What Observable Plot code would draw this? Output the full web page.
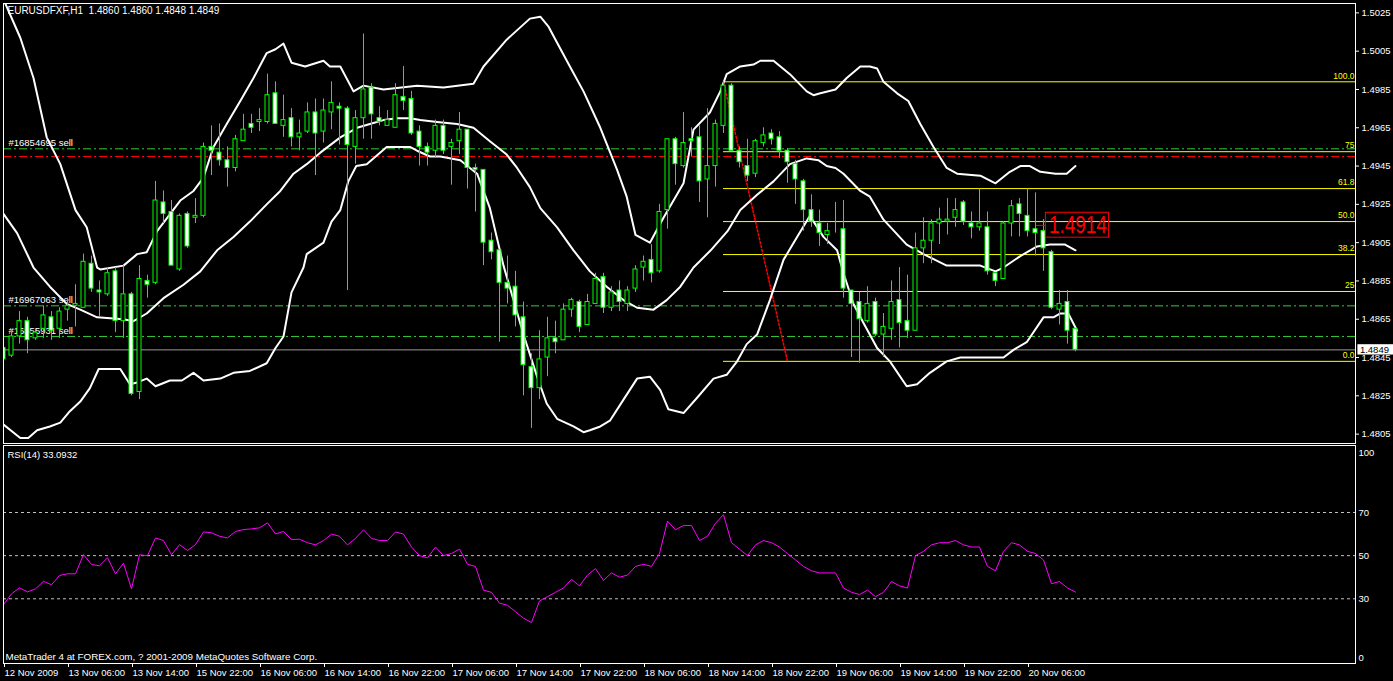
<!DOCTYPE html>
<html><head><meta charset="utf-8">
<script src="https://cdn.jsdelivr.net/npm/d3@7"></script>
<script src="https://cdn.jsdelivr.net/npm/@observablehq/plot@0.6"></script>
<style>
html,body{margin:0;padding:0;background:#000;width:1393px;height:681px;overflow:hidden;}
#main{position:absolute;left:0;top:0;}
#rsi{position:absolute;left:0;top:444px;}
svg{display:block;}
</style></head><body>
<div id="main"></div><div id="rsi"></div>
<script>
// ---------- data (EURUSDFXF, H1) ----------
const title = "EURUSDFXF,H1  1.4860 1.4860 1.4848 1.4849";
const open = [1.4850,1.4846,1.4856,1.4864,1.4855,1.4860,1.4866,1.4860,1.4870,1.4872,
1.4871,1.4894,1.4880,1.4878,1.4890,1.4864,1.4878,1.4827,1.4885,1.4884,
1.4926,1.4921,1.4891,1.4920,1.4918,1.4919,1.4955,1.4952,1.4948,1.4944,
1.4958,1.4967,1.4968,1.4968,1.4983,1.4966,1.4970,1.4960,1.4963,1.4973,
1.4963,1.4973,1.4976,1.4975,1.4955,1.4970,1.4986,1.4970,1.4966,1.4965,
1.4981,1.4980,1.4963,1.4955,1.4953,1.4966,1.4955,1.4958,1.4964,1.4944,
1.4943,1.4906,1.4901,1.4884,1.4882,1.4866,1.4840,1.4829,1.4845,1.4855,
1.4854,1.4870,1.4874,1.4862,1.4873,1.4887,1.4871,1.4880,1.4873,1.4881,
1.4892,1.4896,1.4890,1.4922,1.4959,1.4945,1.4959,1.4960,1.4938,1.4945,
1.4966,1.4987,1.4953,1.4945,1.4941,1.4957,1.4962,1.4960,1.4953,1.4946,
1.4937,1.4922,1.4915,1.4909,1.4910,1.4912,1.4880,1.4874,1.4864,1.4874,
1.4857,1.4860,1.4875,1.4864,1.4859,1.4902,1.4906,1.4915,1.4916,1.4918,
1.4926,1.4915,1.4913,1.4913,1.4889,1.4886,1.4915,1.4925,1.4919,1.4912,
1.4911,1.4900,1.4870,1.4874,1.4860];
const high = [1.4851,1.4859,1.4869,1.4866,1.4860,1.4872,1.4869,1.4871,1.4876,1.4883,
1.4899,1.4898,1.4885,1.4892,1.4892,1.4893,1.4879,1.4893,1.4888,1.4937,
1.4932,1.4927,1.4920,1.4921,1.4928,1.4957,1.4966,1.4967,1.4955,1.4961,
1.4972,1.4972,1.4975,1.4993,1.4989,1.4982,1.4975,1.4969,1.4978,1.4980,
1.4980,1.4989,1.4978,1.4976,1.4974,1.5014,1.4988,1.4976,1.4974,1.4988,
1.4997,1.4984,1.4966,1.4957,1.4969,1.4969,1.4959,1.4973,1.4964,1.4946,
1.4943,1.4910,1.4901,1.4898,1.4890,1.4874,1.4847,1.4859,1.4866,1.4864,
1.4873,1.4876,1.4875,1.4878,1.4889,1.4889,1.4882,1.4885,1.4882,1.4893,
1.4898,1.4904,1.4925,1.4959,1.4960,1.4973,1.4965,1.4966,1.4975,1.4969,
1.4989,1.4988,1.4955,1.4959,1.4959,1.4965,1.4964,1.4963,1.4954,1.4948,
1.4938,1.4930,1.4922,1.4915,1.4926,1.4927,1.4880,1.4879,1.4882,1.4876,
1.4868,1.4885,1.4892,1.4888,1.4910,1.4918,1.4917,1.4923,1.4928,1.4928,
1.4927,1.4921,1.4933,1.4921,1.4889,1.4916,1.4927,1.4928,1.4933,1.4931,
1.4917,1.4901,1.4880,1.4880,1.4860];
const low = [1.4833,1.4845,1.4852,1.4847,1.4854,1.4855,1.4854,1.4855,1.4864,1.4861,
1.4871,1.4879,1.4866,1.4877,1.4858,1.4855,1.4825,1.4823,1.4876,1.4883,
1.4915,1.4893,1.4890,1.4902,1.4915,1.4918,1.4940,1.4945,1.4934,1.4942,
1.4958,1.4962,1.4963,1.4967,1.4967,1.4960,1.4955,1.4953,1.4962,1.4940,
1.4957,1.4964,1.4956,1.4880,1.4946,1.4959,1.4959,1.4966,1.4966,1.4965,
1.4974,1.4961,1.4945,1.4945,1.4949,1.4951,1.4935,1.4951,1.4933,1.4921,
1.4893,1.4896,1.4853,1.4873,1.4861,1.4825,1.4808,1.4823,1.4835,1.4847,
1.4854,1.4866,1.4858,1.4862,1.4873,1.4868,1.4869,1.4869,1.4869,1.4879,
1.4885,1.4884,1.4889,1.4912,1.4935,1.4944,1.4950,1.4926,1.4918,1.4934,
1.4962,1.4953,1.4944,1.4937,1.4939,1.4955,1.4956,1.4949,1.4936,1.4925,
1.4911,1.4913,1.4903,1.4904,1.4910,1.4876,1.4845,1.4842,1.4863,1.4856,
1.4845,1.4854,1.4850,1.4855,1.4859,1.4894,1.4894,1.4904,1.4909,1.4913,
1.4914,1.4907,1.4911,1.4888,1.4882,1.4886,1.4908,1.4908,1.4908,1.4898,
1.4890,1.4870,1.4862,1.4852,1.4848];
const close = [1.4844,1.4856,1.4864,1.4854,1.4858,1.4867,1.4859,1.4869,1.4872,1.4873,
1.4895,1.4881,1.4879,1.4889,1.4864,1.4878,1.4826,1.4886,1.4883,1.4927,
1.4920,1.4893,1.4919,1.4903,1.4919,1.4955,1.4953,1.4948,1.4944,1.4959,
1.4964,1.4965,1.4969,1.4982,1.4967,1.4969,1.4960,1.4962,1.4973,1.4962,
1.4974,1.4978,1.4975,1.4956,1.4970,1.4985,1.4972,1.4968,1.4969,1.4982,
1.4979,1.4962,1.4955,1.4952,1.4966,1.4953,1.4957,1.4964,1.4944,1.4943,
1.4905,1.4900,1.4884,1.4881,1.4867,1.4841,1.4829,1.4844,1.4855,1.4853,
1.4870,1.4875,1.4861,1.4874,1.4886,1.4871,1.4879,1.4874,1.4880,1.4891,
1.4895,1.4889,1.4921,1.4959,1.4946,1.4957,1.4958,1.4937,1.4945,1.4967,
1.4987,1.4953,1.4947,1.4940,1.4958,1.4961,1.4959,1.4953,1.4947,1.4938,
1.4922,1.4916,1.4910,1.4911,1.4910,1.4881,1.4873,1.4865,1.4873,1.4857,
1.4861,1.4874,1.4863,1.4859,1.4902,1.4906,1.4915,1.4917,1.4917,1.4922,
1.4916,1.4913,1.4915,1.4890,1.4885,1.4915,1.4924,1.4920,1.4911,1.4910,
1.4902,1.4871,1.4873,1.4859,1.4849];

// Bollinger Bands (read at sample bars: [bar, price])
const upperBand = [[0,1.5032],[2.1,1.5012],[3.75,1.4991],[5.4,1.4960],[7.1,1.4946],[9,1.4922],[10.4,1.4913],[11.7,1.4892],[12.1,1.4891],[15,1.4893],[16.7,1.4899],[17.9,1.4900],[19.2,1.4911],[22.1,1.4927],[23.75,1.4932],[25,1.4939],[26.25,1.4955],[27.9,1.4967],[29.6,1.4979],[31.25,1.4991],[32.9,1.5004],[34,1.5006],[35,1.5009],[36,1.4999],[37.7,1.4997],[40,1.5000],[40.8,1.4997],[42.1,1.4997],[43.75,1.4984],[45,1.4987],[47.5,1.4985],[51.7,1.4987],[55,1.4986],[58.75,1.4988],[60,1.4997],[62.9,1.5011],[65.8,1.5022],[67.1,1.5023],[68.1,1.5018],[69,1.5011],[70.8,1.4997],[72.5,1.4984],[74.6,1.4965],[76.7,1.4943],[77.9,1.4929],[79,1.4909],[80.8,1.4905],[82.5,1.4918],[85,1.4936],[86.25,1.4964],[88.3,1.4973],[89.6,1.4984],[90.4,1.4993],[92.1,1.4997],[93.75,1.4998],[94.6,1.5000],[96.25,1.5000],[98.3,1.4993],[100.4,1.4984],[101.25,1.4982],[102.1,1.4983],[104,1.4985],[105.4,1.4991],[107.1,1.4997],[108.3,1.4997],[109.2,1.4996],[110,1.4989],[111.7,1.4983],[113.1,1.4979],[114.6,1.4967],[116.25,1.4955],[117.9,1.4944],[119.2,1.4941],[122.1,1.4940],[124,1.4936],[125.8,1.4942],[127.1,1.4945],[128.3,1.4945],[129.6,1.4942],[131.5,1.4941],[132.9,1.4941],[134,1.4945]];
const midBand = [[0,1.4920],[1.7,1.4910],[3.75,1.4892],[5.8,1.4882],[7.9,1.4873],[9.6,1.4870],[11.7,1.4866],[15,1.4865],[16.25,1.4864],[17.9,1.4868],[20,1.4876],[22.5,1.4883],[24.6,1.4890],[26.7,1.4901],[28.75,1.4908],[30.8,1.4916],[32.9,1.4925],[34.6,1.4932],[36.25,1.4941],[37.9,1.4946],[39.6,1.4952],[42.1,1.4960],[44.2,1.4965],[45.8,1.4967],[47.5,1.4969],[49.2,1.4970],[50.8,1.4970],[52.1,1.4969],[54.2,1.4968],[56.7,1.4967],[58.75,1.4965],[60.8,1.4958],[62.9,1.4951],[64.2,1.4944],[65.8,1.4934],[67.1,1.4923],[69.2,1.4913],[71.25,1.4901],[73.3,1.4890],[75.4,1.4882],[77.5,1.4875],[79.2,1.4871],[81.25,1.4870],[82.9,1.4875],[84.6,1.4882],[86.25,1.4892],[88.4,1.4901],[90.5,1.4911],[92.1,1.4922],[94.2,1.4930],[96.25,1.4937],[98.3,1.4946],[100.4,1.4949],[101.9,1.4948],[102.9,1.4945],[104,1.4944],[105,1.4941],[107.1,1.4932],[108.3,1.4929],[110,1.4917],[112.9,1.4904],[115,1.4899],[117.9,1.4893],[120.4,1.4893],[122.1,1.4893],[124,1.4890],[125,1.4892],[127.1,1.4898],[129.2,1.4903],[130.8,1.4904],[132.7,1.4904],[134,1.4901]];
const lowerBand = [[0,1.4810],[2.1,1.4803],[3.1,1.4803],[4.2,1.4807],[5.8,1.4809],[7.1,1.4811],[8.3,1.4817],[9.6,1.4822],[10.8,1.4829],[11.9,1.4839],[14.6,1.4839],[15.8,1.4831],[16.7,1.4832],[17.9,1.4834],[19,1.4830],[20.8,1.4833],[22.3,1.4833],[23.75,1.4837],[25,1.4833],[27.1,1.4834],[28.75,1.4837],[30.8,1.4838],[32.9,1.4842],[34,1.4850],[35,1.4856],[36,1.4879],[37.5,1.4892],[37.9,1.4899],[40,1.4905],[41,1.4916],[42.1,1.4922],[43.1,1.4937],[44.1,1.4945],[45.4,1.4946],[47.9,1.4955],[50.8,1.4955],[51.7,1.4953],[53.3,1.4950],[54.6,1.4950],[57.1,1.4948],[59.2,1.4941],[60.8,1.4923],[62.5,1.4893],[65,1.4857],[66.7,1.4835],[67.9,1.4821],[69.2,1.4813],[71.25,1.4809],[72.5,1.4806],[73.3,1.4807],[74.6,1.4809],[75.8,1.4812],[77.5,1.4823],[79.2,1.4834],[80.8,1.4835],[82.1,1.4828],[83.1,1.4818],[85,1.4816],[86.7,1.4824],[88.75,1.4834],[90.4,1.4836],[91.7,1.4843],[92.9,1.4852],[94.2,1.4857],[95.8,1.4875],[97.5,1.4896],[99.2,1.4908],[100.8,1.4919],[102.5,1.4908],[104.2,1.4901],[105,1.4889],[106.25,1.4873],[107.5,1.4863],[109.2,1.4850],[110.8,1.4843],[112.9,1.4830],[114.2,1.4831],[115.8,1.4837],[117.9,1.4843],[119.6,1.4845],[122.9,1.4845],[125,1.4845],[126.25,1.4849],[127.9,1.4853],[130,1.4866],[131.25,1.4866],[132.1,1.4868],[133.1,1.4868],[134.2,1.4859]];

// RSI(14)
const rsi = [27.3,32.3,35.1,33.2,34.6,38.1,36.5,40.8,41.6,41.6,
50.5,45.9,45.3,49.0,41.6,46.5,34.6,50.4,50.0,58.2,
57.0,50.4,55.1,52.4,55.1,61.0,60.6,59.0,58.2,61.2,
62.1,62.4,62.9,65.2,60.1,61.2,57.5,57.6,56,55,
57,60,59,55,58,62,58,57,57,61,
60,54,50,49,54,50,51,53,46,45,
34,33,28,27,24,21,19,29,31,33,
35,39,36,41,44,38.5,42,40,41,45,
46,45,51,66,62,64,64,57,59,65,
69,56,53,50,55,57,56,54,51,48,
45,43,42,42,42,35,33,32,34,31,
33,38,36,35,50,52,55,56,56,57,
55,54,54,45,43,52,56,55,52,51,
48,37,38,35,33.09];
const rsiTitle = "RSI(14) 33.0932";
const rsiLevels = [30, 50, 70];
const rsiAxis = [100, 70, 50, 30, 0];

// orders / objects
const orderTickets = ["#16854695", "#16967063", "#16855931"];
const orderPrices = [1.4954, 1.4872, 1.4856];
const stopPrices = [1.4950];
const bidPrice = 1.4849;
const priceLabel = 1.4914;
const fiboLevels = [0, 25, 38.2, 50, 61.8, 75, 100];
const fiboText = ["0.0", "25", "38.2", "50.0", "61.8", "75", "100.0"];
const fiboHigh = 1.4989, fiboLow = 1.4843, fiboStartBar = 90, fiboEndBar = 98;

// axes
const priceTicks = [1.5025,1.5005,1.4985,1.4965,1.4945,1.4925,1.4905,1.4885,1.4865,1.4845,1.4825,1.4805];
const timeTickBars = [0,8,16,24,32,40,48,56,64,72,80,88,96,104,112,120,128];
const timeLabels = ["12 Nov 2009","13 Nov 06:00","13 Nov 14:00","15 Nov 22:00","16 Nov 06:00","16 Nov 14:00","16 Nov 22:00","17 Nov 06:00","17 Nov 14:00","17 Nov 22:00","18 Nov 06:00","18 Nov 14:00","18 Nov 22:00","19 Nov 06:00","19 Nov 14:00","19 Nov 22:00","20 Nov 06:00"];
const footer = "MetaTrader 4 at FOREX.com, ? 2001-2009 MetaQuotes Software Corp.";

// ---------- drawing ----------
const FONT = "'Liberation Sans', Arial, sans-serif";
const GREEN = "#00ff00";
const XDOM = [0, 169];
const candles = open.map((o, i) => ({i, o, h: high[i], l: low[i], c: close[i]}));
const fibo = fiboLevels.map((l, i) => ({price: fiboLow + (fiboHigh - fiboLow) * l / 100, label: fiboText[i]}));
const dashDot = "8,3,2,3";

const main = Plot.plot({
  width: 1393, height: 444,
  marginLeft: 3, marginRight: 38, marginTop: 3, marginBottom: 1,
  style: {background: "#000", color: "#fff", fontFamily: FONT, fontSize: "9.5px"},
  x: {domain: XDOM, axis: null},
  y: {domain: [1.48001, 1.50299], axis: null},
  marks: [
    Plot.ruleY([bidPrice], {stroke: "#9a9a9a"}),
    Plot.ruleY(orderPrices, {stroke: "#32cd32", strokeDasharray: dashDot}),
    Plot.ruleY(stopPrices, {stroke: "#ff0000", strokeDasharray: dashDot}),
    Plot.ruleY(fibo, {y: "price", x1: fiboStartBar, x2: XDOM[1], stroke: "#ffff00"}),
    Plot.line([[fiboStartBar, fiboHigh], [fiboEndBar, fiboLow]], {stroke: "#ff0000", strokeDasharray: "2,2"}),
    Plot.text(orderTickets, {x: 0.62, y: (d, i) => orderPrices[i], text: d => d + " sell", fill: "#fff", textAnchor: "start", dy: -6, fontSize: 9.5}),
    Plot.line(upperBand, {x: d => d[0], y: d => d[1], stroke: "#fff", strokeWidth: 2, clip: true}),
    Plot.line(midBand, {x: d => d[0], y: d => d[1], stroke: "#fff", strokeWidth: 2, clip: true}),
    Plot.line(lowerBand, {x: d => d[0], y: d => d[1], stroke: "#fff", strokeWidth: 2, clip: true}),
    Plot.ruleX(candles, {x: "i", y1: "l", y2: "h", stroke: GREEN, clip: true}),
    Plot.rect(candles, {x1: d => d.i - 0.25, x2: d => d.i + 0.25, y1: "o", y2: "c",
      fill: d => d.c >= d.o ? "#000" : "#fff", stroke: GREEN, strokeWidth: 1, clip: true}),
    Plot.text(fibo, {x: XDOM[1], y: "price", text: "label", fill: "#ffff00", textAnchor: "end", dx: -1, dy: -6, fontSize: 8.5}),
    Plot.ruleY([priceLabel], {x1: 129.1, x2: 130.3, stroke: "#ff0000"}),
    Plot.rect([priceLabel], {x1: 130.3, x2: 138.2, y1: d => d - 0.00064, y2: d => d + 0.00066, fill: "none", stroke: "#ff0000"}),
    Plot.text([priceLabel], {x: 134.3, y: d => d, text: d => d.toFixed(4), fill: "#ff0000", fontSize: 24, className: "bigprice"}),
    Plot.text([title], {frameAnchor: "top-left", dx: 4, dy: 3.5, lineAnchor: "top", textAnchor: "start", fill: "#fff", fontSize: 10}),
    Plot.frame({stroke: "#fff"}),
    Plot.axisY(priceTicks, {anchor: "right", tickSize: 3, tickPadding: 3, tickFormat: d => d.toFixed(4), fontSize: 9.5, label: null}),
    Plot.rect([bidPrice], {x1: 169.3, x2: 174.5, y1: d => d - 0.00027, y2: d => d + 0.00027, fill: "#fff"}),
    Plot.text([bidPrice], {x: 169.3, y: d => d, text: d => d.toFixed(4), fill: "#000", textAnchor: "start", dx: 2, fontSize: 9.5})
  ]
});
// condense the large price label to fit its box (narrow MT4 font)
main.querySelectorAll(".bigprice text").forEach(t => {
  t.setAttribute("textLength", "58");
  t.setAttribute("lengthAdjust", "spacingAndGlyphs");
});
document.getElementById("main").appendChild(main);

const rsiPlot = Plot.plot({
  width: 1393, height: 237,
  marginLeft: 3, marginRight: 38, marginTop: 1, marginBottom: 18,
  style: {background: "#000", color: "#fff", fontFamily: FONT, fontSize: "9.5px"},
  x: {domain: XDOM, axis: null},
  y: {domain: [0, 101.07], axis: null},
  marks: [
    Plot.ruleY(rsiLevels, {stroke: "#c0c0c0", strokeDasharray: "3,3"}),
    Plot.line(rsi.map((v, i) => [i, v]), {x: d => d[0], y: d => d[1], stroke: "#ff00ff", strokeWidth: 1}),
    Plot.text([rsiTitle], {frameAnchor: "top-left", dx: 4, dy: 6, lineAnchor: "top", textAnchor: "start", fill: "#fff", fontSize: 9.5}),
    Plot.text([footer], {frameAnchor: "bottom-left", dx: 2, dy: -4, lineAnchor: "bottom", textAnchor: "start", fill: "#fff", fontSize: 9.8}),
    Plot.frame({stroke: "#fff"}),
    Plot.text(rsiAxis, {x: XDOM[1], y: d => Math.min(97.8, Math.max(2.8, d)), text: d => String(d), textAnchor: "start", dx: 3, fill: "#fff", fontSize: 9.5}),
    Plot.axisX(timeTickBars, {anchor: "bottom", tickSize: 4, tickPadding: 2, textAnchor: "start", dx: 1,
      tickFormat: d => timeLabels[timeTickBars.indexOf(d)], fontSize: 9.5, label: null})
  ]
});
document.getElementById("rsi").appendChild(rsiPlot);
</script>
</body></html>
